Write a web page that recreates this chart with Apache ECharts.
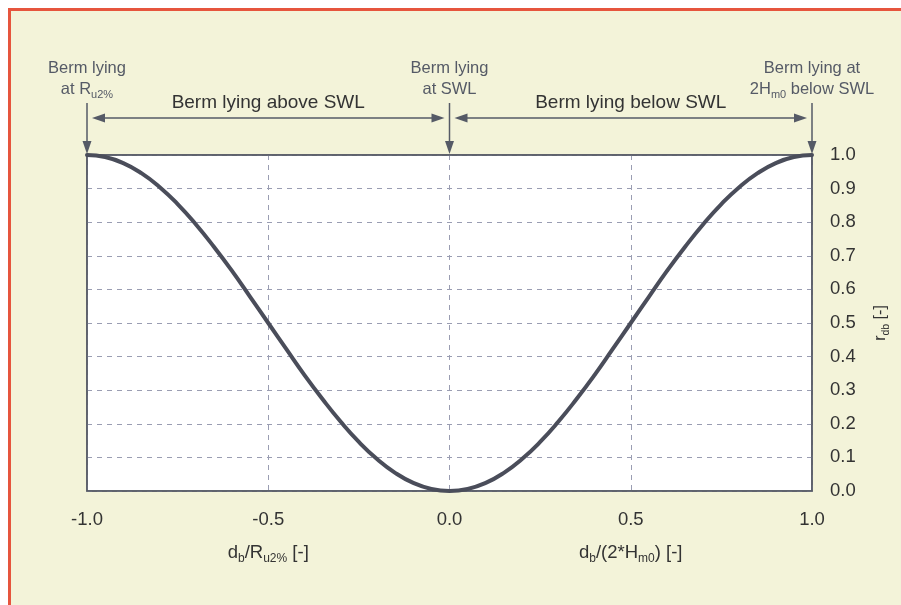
<!DOCTYPE html>
<html>
<head>
<meta charset="utf-8">
<script src="https://cdn.jsdelivr.net/npm/echarts@6/dist/echarts.min.js"></script>
<style>
html,body{margin:0;padding:0;background:#ffffff;}
#c{width:901px;height:605px;}
</style>
</head>
<body>
<div id="c"></div>
<script>
// Data
const xValues = [-1.0,-0.95,-0.9,-0.85,-0.8,-0.75,-0.7,-0.65,-0.6,-0.55,-0.5,-0.45,-0.4,-0.35,-0.3,-0.25,-0.2,-0.15,-0.1,-0.05,0.0,
                 0.05,0.1,0.15,0.2,0.25,0.3,0.35,0.4,0.45,0.5,0.55,0.6,0.65,0.7,0.75,0.8,0.85,0.9,0.95,1.0];
const rdbValues = [1.0,0.994,0.976,0.946,0.905,0.854,0.794,0.727,0.655,0.578,0.5,0.422,0.345,0.273,0.206,0.146,0.095,0.054,0.024,0.006,0.0,
                   0.006,0.024,0.054,0.095,0.146,0.206,0.273,0.345,0.422,0.5,0.578,0.655,0.727,0.794,0.854,0.905,0.946,0.976,0.994,1.0];
const markerX = [-1.0, 0.0, 1.0];
const markerLines = [
  ['Berm lying', 'at R{sub|u2%}'],
  ['Berm lying', 'at SWL'],
  ['Berm lying at', '2H{sub|m0} below SWL']
];
const rangeLabels = ['Berm lying above SWL', 'Berm lying below SWL'];
const rangeSpans = [[-1.0, 0.0], [0.0, 1.0]];
const xNameAt = [-0.5, 0.5];
const xNames = ['d{sub|b}/R{sub|u2%} [-]', 'd{sub|b}/(2*H{sub|m0}) [-]'];

const FONT = '"Liberation Sans", Arial, sans-serif';
const chart = echarts.init(document.getElementById('c'), null, {renderer: 'canvas'});
const dataPts = xValues.map((x, i) => [x, rdbValues[i]]);

const option = {
  backgroundColor: '#ffffff',
  animation: false,
  grid: {left: 87, right: 89, top: 155, bottom: 114, show: true,
         backgroundColor: '#ffffff', borderColor: '#565a66', borderWidth: 1.5},
  xAxis: {
    type: 'value', min: -1, max: 1, interval: 0.5,
    axisLine: {show: false}, axisTick: {show: false},
    axisLabel: {margin: 19, color: '#333333', fontSize: 18.5, fontFamily: FONT,
                formatter: v => v.toFixed(1)},
    splitLine: {show: true, lineStyle: {color: '#9a9db2', type: [5, 5], width: 1}}
  },
  yAxis: {
    type: 'value', position: 'right', min: 0, max: 1, interval: 0.1,
    axisLine: {show: false}, axisTick: {show: false},
    axisLabel: {margin: 18, color: '#333333', fontSize: 18.5, fontFamily: FONT,
                formatter: v => v.toFixed(1)},
    splitLine: {show: true, lineStyle: {color: '#9a9db2', type: [5, 5], width: 1}},
    name: 'r{sub|db} [-]', nameLocation: 'middle', nameGap: 58, nameRotate: 90,
    nameTextStyle: {color: '#333333', fontSize: 16, fontFamily: FONT,
      rich: {sub: {fontSize: 10.5, fontFamily: FONT, color: '#333333', padding: [11, 0, 0, 0]}}}
  },
  series: [{
    type: 'line', data: dataPts, smooth: true, showSymbol: false,
    lineStyle: {color: '#4a4d5a', width: 4, cap: 'round'},
    clip: false, z: 4
  }]
};
chart.setOption(option);

function px(x, y) { return chart.convertToPixel({gridIndex: 0}, [x, y]); }

const topY = px(0, 1)[1];
const bottomY = px(0, 0)[1];
const leftX = px(-1, 0)[0];
const rightX = px(1, 0)[0];
const ANN = '#555a66';
const graphics = [];

// Cream background panel with red frame
graphics.push({type: 'rect', z: -10, silent: true, shape: {x: 8, y: 8, width: 893, height: 597},
  style: {fill: '#f3f3d9'}});
graphics.push({type: 'rect', z: -9, silent: true, shape: {x: 8, y: 8, width: 893, height: 3}, style: {fill: '#e6553d'}});
graphics.push({type: 'rect', z: -9, silent: true, shape: {x: 8, y: 8, width: 3, height: 597}, style: {fill: '#e6553d'}});
// solid plot frame above the dashed grid lines
graphics.push({type: 'rect', z: 3, silent: true,
  shape: {x: leftX, y: topY, width: rightX - leftX, height: bottomY - topY},
  style: {fill: null, stroke: '#565a66', lineWidth: 1.5}});

const arrowY = topY - 37;
const richSub = {sub: {fontSize: 11, fontFamily: FONT, color: ANN, padding: [11, 0, 0, 0]}};

markerX.forEach((mx, i) => {
  const cx = px(mx, 1)[0];
  graphics.push({type: 'line', z: 5, shape: {x1: cx, y1: topY - 52, x2: cx, y2: topY - 12},
    style: {stroke: ANN, lineWidth: 1.5}});
  graphics.push({type: 'polygon', z: 5, shape: {points: [[cx - 4.5, topY - 14], [cx + 4.5, topY - 14], [cx, topY - 1]]},
    style: {fill: ANN}});
  graphics.push({type: 'text', z: 5, x: cx, y: topY - 87,
    style: {text: markerLines[i][0], fill: ANN, font: '16.5px ' + FONT, align: 'center', verticalAlign: 'middle'}});
  graphics.push({type: 'text', z: 5, x: cx, y: topY - 66,
    style: {text: markerLines[i][1], fill: ANN, fontSize: 16.5, fontFamily: FONT, align: 'center', verticalAlign: 'middle',
            rich: richSub}});
});

rangeSpans.forEach((sp, i) => {
  const a = px(sp[0], 1)[0] + 5, b = px(sp[1], 1)[0] - 5;
  graphics.push({type: 'line', z: 5, shape: {x1: a + 6, y1: arrowY, x2: b - 6, y2: arrowY},
    style: {stroke: ANN, lineWidth: 1.5}});
  graphics.push({type: 'polygon', z: 5, shape: {points: [[a, arrowY], [a + 13, arrowY - 4.5], [a + 13, arrowY + 4.5]]}, style: {fill: ANN}});
  graphics.push({type: 'polygon', z: 5, shape: {points: [[b, arrowY], [b - 13, arrowY - 4.5], [b - 13, arrowY + 4.5]]}, style: {fill: ANN}});
  const mid = px((sp[0] + sp[1]) / 2, 1)[0];
  graphics.push({type: 'text', z: 5, x: mid, y: arrowY - 15,
    style: {text: rangeLabels[i], fill: '#333333', font: '19px ' + FONT, align: 'center', verticalAlign: 'middle'}});
});

xNameAt.forEach((xv, i) => {
  const cx = px(xv, 0)[0];
  graphics.push({type: 'text', z: 5, x: cx, y: bottomY + 62,
    style: {text: xNames[i], fill: '#333333', fontSize: 18.5, fontFamily: FONT, align: 'center', verticalAlign: 'middle',
            rich: {sub: {fontSize: 12, fontFamily: FONT, color: '#333333', padding: [11, 0, 0, 0]}}}});
});

chart.setOption({graphic: {elements: graphics}});
</script>
</body>
</html>
